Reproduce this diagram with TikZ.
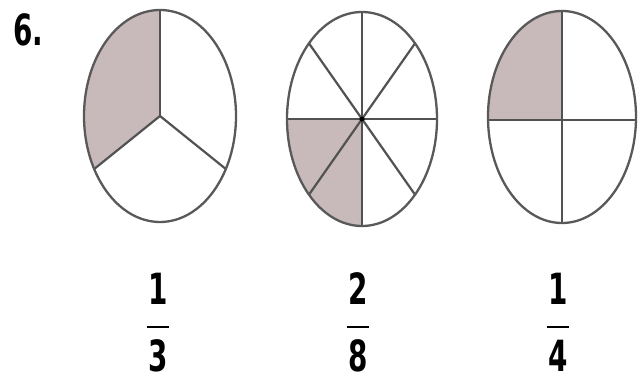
\documentclass[tikz,border=0pt]{standalone}
\usepackage{fontspec}
\setmainfont{DejaVu Sans Condensed}
\usetikzlibrary{calc}
\begin{document}
\begin{tikzpicture}[x=1pt,y=-1pt,
  rim/.style={draw=black!65,line width=2.3pt},
  spoke/.style={draw=black!68,line width=2.2pt},
  shade/.style={fill=shadegray},
  digit/.style={font=\bfseries\fontsize{43}{43}\selectfont,inner sep=0pt,xscale=0.72},
  fracbar/.style={draw=black,line width=2.8pt}]
\definecolor{shadegray}{RGB}{200,186,187}
\useasboundingbox (0,0) rectangle (642,382);
\fill[white] (0,0) rectangle (642,382);

% ---- pie 1: 1/3 ----
\coordinate (c1) at (160,116);
\begin{scope}
  \clip (c1) ellipse [x radius=76, y radius=106];
  \fill[shade] (c1) -- ($(c1)+(0,-106)$) -- (0,0) -- (0,300) -- ($(c1)+({76*cos(210)},{-106*sin(210)})$) -- cycle;
\end{scope}
\draw[spoke] (c1) -- ++(0,-106);
\draw[spoke] (c1) -- ++({76*cos(210)},{-106*sin(210)});
\draw[spoke] (c1) -- ++({76*cos(330)},{-106*sin(330)});
\draw[rim] (c1) ellipse [x radius=76, y radius=106];

% ---- pie 2: 2/8 ----
\coordinate (c2) at (362,119);
\begin{scope}
  \clip (c2) ellipse [x radius=75, y radius=107];
  \fill[shade] (c2) rectangle ++(-80,110);
\end{scope}
\draw[spoke] ($(c2)+(0,-107)$) -- ($(c2)+(0,107)$);
\draw[spoke] ($(c2)+(-75,0)$) -- ($(c2)+(75,0)$);
\foreach \a in {45,135,225,315}
  \draw[spoke] (c2) -- ++({75*cos(\a)},{-107*sin(\a)});
\fill[black] (c2) circle (2.6);
\draw[rim] (c2) ellipse [x radius=75, y radius=107];

% ---- pie 3: 1/4 ----
\coordinate (c3) at (562,117);
\begin{scope}
  \clip (c3) ellipse [x radius=74, y radius=106];
  \fill[shade] ($(c3)+(0,3)$) rectangle ++(-80,-110);
\end{scope}
\draw[spoke] ($(c3)+(0,-106)$) -- ($(c3)+(0,106)$);
\draw[spoke] ($(c3)+(-74,3)$) -- ($(c3)+(74,3)$);
\draw[rim] (c3) ellipse [x radius=74, y radius=106];

% ---- labels ----
\node[digit,anchor=west] (num6) at (13,30) {6.};

\node[digit] (n1) at (158,289) {1};
\coordinate (b1l) at (147,327); \coordinate (b1r) at (169,327);
\draw[fracbar] (b1l) -- (b1r);
\node[digit] (d1) at (158,356) {3};

\node[digit] (n2) at (358,289) {2};
\coordinate (b2l) at (347,327); \coordinate (b2r) at (369,327);
\draw[fracbar] (b2l) -- (b2r);
\node[digit] (d2) at (358,356) {8};

\node[digit] (n3) at (558,289) {1};
\coordinate (b3l) at (547,327); \coordinate (b3r) at (569,327);
\draw[fracbar] (b3l) -- (b3r);
\node[digit] (d3) at (558,356) {4};
\end{tikzpicture}
\end{document}
